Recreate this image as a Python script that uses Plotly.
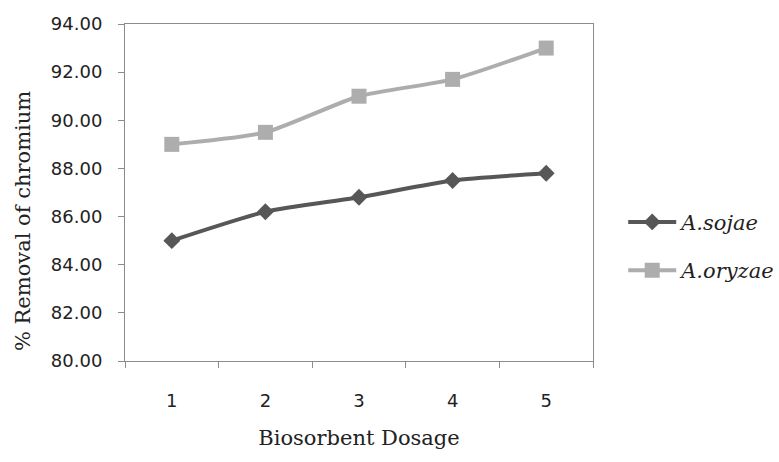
import plotly.graph_objects as go

dosage = ["1", "2", "3", "4", "5"]
sojae = [85.0, 86.2, 86.8, 87.5, 87.8]
oryzae = [89.0, 89.5, 91.0, 91.7, 93.0]
y_ticks = [80, 82, 84, 86, 88, 90, 92, 94]

fig = go.Figure()
fig.add_trace(go.Scatter(
    x=dosage, y=sojae, name="A.sojae", mode="lines+markers", legendgroup="a",
    line=dict(color="#575757", width=4, shape="spline", smoothing=0.6),
    marker=dict(symbol="diamond", size=13, color="#575757"),
))
fig.add_trace(go.Scatter(
    x=dosage, y=oryzae, name="A.oryzae", mode="lines+markers", legendgroup="b",
    line=dict(color="#adadad", width=4, shape="spline", smoothing=0.6),
    marker=dict(symbol="square", size=15, color="#adadad"),
))

fig.update_layout(
    width=779, height=462,
    margin=dict(l=125, r=186, t=24, b=101),
    paper_bgcolor="white", plot_bgcolor="white",
    showlegend=True,
    legend=dict(
        xref="container", yref="container",
        x=0.80, y=0.467, xanchor="left", yanchor="middle",
        font=dict(family="DejaVu Serif", size=21, color="#222", style="italic"),
        itemwidth=48, tracegroupgap=18,
        bgcolor="rgba(0,0,0,0)",
    ),
    xaxis=dict(
        type="category", tickson="boundaries", range=[-0.5, 4.5],
        showline=True, linecolor="#8c8c8c", linewidth=1, mirror=True,
        ticks="outside", ticklen=6, tickcolor="#8c8c8c",
        showgrid=False, zeroline=False, ticklabelstandoff=23,
        tickfont=dict(family="DejaVu Sans", size=18, color="#222"),
        title=dict(text="Biosorbent Dosage", standoff=20,
                   font=dict(family="DejaVu Serif", size=21, color="#222")),
    ),
    yaxis=dict(
        range=[80, 94], tickvals=y_ticks,
        ticktext=[f"{v:.2f}" for v in y_ticks],
        showline=True, linecolor="#8c8c8c", linewidth=1, mirror=True,
        ticks="outside", ticklen=6, tickcolor="#8c8c8c",
        showgrid=False, zeroline=False, ticklabelstandoff=12,
        tickfont=dict(family="DejaVu Sans", size=18, color="#222"),
    ),
    annotations=[dict(
        text="% Removal of chromium", textangle=-90,
        xref="paper", yref="paper", x=-0.218, y=0.415,
        xanchor="center", yanchor="middle", showarrow=False,
        font=dict(family="DejaVu Serif", size=21, color="#222"),
    )],
)
fig.write_html("out.html")
